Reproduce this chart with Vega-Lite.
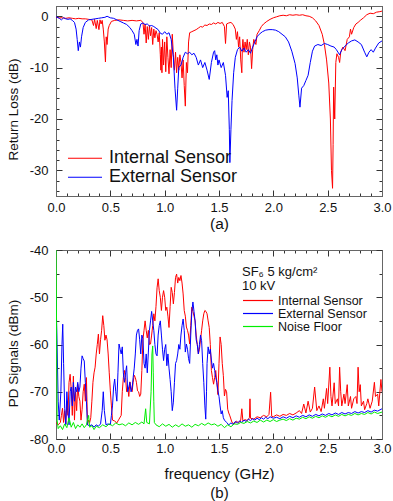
{
"$schema": "https://vega.github.io/schema/vega-lite/v6.json",
"padding": {"left": 5, "top": 5, "right": 8, "bottom": 0},
"background": "white",
"spacing": 11,
"config": {
  "font": "Liberation Sans",
  "view": {"stroke": "#666", "strokeWidth": 1},
  "axis": {"grid": false, "domainColor": "#666", "domainWidth": 1, "tickColor": "#333", "tickWidth": 1, "labelFont": "Liberation Sans", "labelFontSize": 13, "labelColor": "#111", "titleFont": "Liberation Sans", "titleFontWeight": "normal", "titleColor": "#111", "labelOverlap": false, "labelFlush": false},
  "legend": {"labelFont": "Liberation Sans", "titleFont": "Liberation Sans", "titleFontWeight": "normal", "labelColor": "#111", "titleColor": "#111", "padding": 0}
},
"resolve": {"scale": {"color": "independent"}, "legend": {"color": "independent"}},
"vconcat": [
{
  "width": 326, "height": 190,
  "data": {"values": [
{"s":"Internal Sensor","f":0.00,"v":-0.2},{"s":"Internal Sensor","f":0.03,"v":-0.3},{"s":"Internal Sensor","f":0.06,"v":-0.3},{"s":"Internal Sensor","f":0.09,"v":-0.4},{"s":"Internal Sensor","f":0.12,"v":-0.3},{"s":"Internal Sensor","f":0.15,"v":-0.4},{"s":"Internal Sensor","f":0.18,"v":-0.5},{"s":"Internal Sensor","f":0.21,"v":-0.4},{"s":"Internal Sensor","f":0.24,"v":-0.5},{"s":"Internal Sensor","f":0.27,"v":-0.5},{"s":"Internal Sensor","f":0.30,"v":-0.6},{"s":"Internal Sensor","f":0.33,"v":-0.7},{"s":"Internal Sensor","f":0.345,"v":-1.8},{"s":"Internal Sensor","f":0.355,"v":-0.6},{"s":"Internal Sensor","f":0.37,"v":-2.4},{"s":"Internal Sensor","f":0.38,"v":-0.8},{"s":"Internal Sensor","f":0.395,"v":-2.6},{"s":"Internal Sensor","f":0.405,"v":-0.7},{"s":"Internal Sensor","f":0.415,"v":-1.5},{"s":"Internal Sensor","f":0.425,"v":-0.8},{"s":"Internal Sensor","f":0.435,"v":-2.5},{"s":"Internal Sensor","f":0.445,"v":-5.0},{"s":"Internal Sensor","f":0.455,"v":-8.9},{"s":"Internal Sensor","f":0.462,"v":-4.0},{"s":"Internal Sensor","f":0.47,"v":-5.5},{"s":"Internal Sensor","f":0.48,"v":-2.5},{"s":"Internal Sensor","f":0.49,"v":-1.8},{"s":"Internal Sensor","f":0.51,"v":-1.0},{"s":"Internal Sensor","f":0.54,"v":-0.8},{"s":"Internal Sensor","f":0.58,"v":-0.7},{"s":"Internal Sensor","f":0.62,"v":-0.8},{"s":"Internal Sensor","f":0.66,"v":-0.9},{"s":"Internal Sensor","f":0.70,"v":-0.8},{"s":"Internal Sensor","f":0.74,"v":-0.9},{"s":"Internal Sensor","f":0.78,"v":-0.8},{"s":"Internal Sensor","f":0.80,"v":-1.2},{"s":"Internal Sensor","f":0.81,"v":-3.5},{"s":"Internal Sensor","f":0.82,"v":-1.5},{"s":"Internal Sensor","f":0.83,"v":-5.2},{"s":"Internal Sensor","f":0.84,"v":-2.0},{"s":"Internal Sensor","f":0.85,"v":-4.5},{"s":"Internal Sensor","f":0.86,"v":-1.8},{"s":"Internal Sensor","f":0.87,"v":-3.8},{"s":"Internal Sensor","f":0.88,"v":-2.2},{"s":"Internal Sensor","f":0.89,"v":-5.5},{"s":"Internal Sensor","f":0.90,"v":-2.5},{"s":"Internal Sensor","f":0.91,"v":-4.2},{"s":"Internal Sensor","f":0.92,"v":-2.8},{"s":"Internal Sensor","f":0.93,"v":-3.5},{"s":"Internal Sensor","f":0.94,"v":-5.0},{"s":"Internal Sensor","f":0.95,"v":-3.2},{"s":"Internal Sensor","f":0.96,"v":-7.5},{"s":"Internal Sensor","f":0.965,"v":-10.5},{"s":"Internal Sensor","f":0.97,"v":-6.0},{"s":"Internal Sensor","f":0.975,"v":-11.0},{"s":"Internal Sensor","f":0.98,"v":-4.5},{"s":"Internal Sensor","f":0.99,"v":-9.5},{"s":"Internal Sensor","f":1.00,"v":-5.0},{"s":"Internal Sensor","f":1.01,"v":-10.8},{"s":"Internal Sensor","f":1.02,"v":-4.0},{"s":"Internal Sensor","f":1.03,"v":-8.0},{"s":"Internal Sensor","f":1.04,"v":-11.2},{"s":"Internal Sensor","f":1.05,"v":-6.5},{"s":"Internal Sensor","f":1.06,"v":-10.0},{"s":"Internal Sensor","f":1.07,"v":-3.5},{"s":"Internal Sensor","f":1.08,"v":-7.5},{"s":"Internal Sensor","f":1.09,"v":-10.5},{"s":"Internal Sensor","f":1.10,"v":-7.0},{"s":"Internal Sensor","f":1.11,"v":-11.0},{"s":"Internal Sensor","f":1.12,"v":-8.0},{"s":"Internal Sensor","f":1.13,"v":-10.5},{"s":"Internal Sensor","f":1.14,"v":-7.5},{"s":"Internal Sensor","f":1.15,"v":-9.0},{"s":"Internal Sensor","f":1.16,"v":-12.0},{"s":"Internal Sensor","f":1.17,"v":-8.5},{"s":"Internal Sensor","f":1.18,"v":-13.5},{"s":"Internal Sensor","f":1.19,"v":-17.5},{"s":"Internal Sensor","f":1.20,"v":-9.0},{"s":"Internal Sensor","f":1.21,"v":-11.0},{"s":"Internal Sensor","f":1.22,"v":-5.0},{"s":"Internal Sensor","f":1.23,"v":-3.2},{"s":"Internal Sensor","f":1.25,"v":-3.0},{"s":"Internal Sensor","f":1.27,"v":-2.8},{"s":"Internal Sensor","f":1.29,"v":-2.6},{"s":"Internal Sensor","f":1.31,"v":-2.3},{"s":"Internal Sensor","f":1.33,"v":-2.0},{"s":"Internal Sensor","f":1.35,"v":-2.1},{"s":"Internal Sensor","f":1.37,"v":-1.7},{"s":"Internal Sensor","f":1.39,"v":-1.8},{"s":"Internal Sensor","f":1.41,"v":-1.5},{"s":"Internal Sensor","f":1.43,"v":-1.6},{"s":"Internal Sensor","f":1.45,"v":-1.3},{"s":"Internal Sensor","f":1.47,"v":-1.5},{"s":"Internal Sensor","f":1.49,"v":-1.2},{"s":"Internal Sensor","f":1.51,"v":-1.4},{"s":"Internal Sensor","f":1.53,"v":-1.2},{"s":"Internal Sensor","f":1.55,"v":-2.0},{"s":"Internal Sensor","f":1.56,"v":-5.3},{"s":"Internal Sensor","f":1.57,"v":-1.5},{"s":"Internal Sensor","f":1.59,"v":-1.3},{"s":"Internal Sensor","f":1.61,"v":-1.2},{"s":"Internal Sensor","f":1.63,"v":-1.6},{"s":"Internal Sensor","f":1.65,"v":-2.5},{"s":"Internal Sensor","f":1.66,"v":-4.5},{"s":"Internal Sensor","f":1.67,"v":-3.0},{"s":"Internal Sensor","f":1.68,"v":-6.0},{"s":"Internal Sensor","f":1.69,"v":-4.0},{"s":"Internal Sensor","f":1.70,"v":-8.5},{"s":"Internal Sensor","f":1.71,"v":-11.0},{"s":"Internal Sensor","f":1.715,"v":-6.0},{"s":"Internal Sensor","f":1.72,"v":-4.5},{"s":"Internal Sensor","f":1.73,"v":-7.0},{"s":"Internal Sensor","f":1.74,"v":-5.0},{"s":"Internal Sensor","f":1.75,"v":-6.5},{"s":"Internal Sensor","f":1.76,"v":-4.5},{"s":"Internal Sensor","f":1.77,"v":-7.5},{"s":"Internal Sensor","f":1.78,"v":-5.0},{"s":"Internal Sensor","f":1.79,"v":-6.0},{"s":"Internal Sensor","f":1.80,"v":-10.2},{"s":"Internal Sensor","f":1.81,"v":-6.5},{"s":"Internal Sensor","f":1.82,"v":-4.5},{"s":"Internal Sensor","f":1.84,"v":-5.5},{"s":"Internal Sensor","f":1.85,"v":-3.5},{"s":"Internal Sensor","f":1.87,"v":-2.8},{"s":"Internal Sensor","f":1.89,"v":-2.0},{"s":"Internal Sensor","f":1.91,"v":-1.5},{"s":"Internal Sensor","f":1.94,"v":-1.0},{"s":"Internal Sensor","f":1.97,"v":-0.6},{"s":"Internal Sensor","f":2.00,"v":-0.3},{"s":"Internal Sensor","f":2.03,"v":-0.1},{"s":"Internal Sensor","f":2.06,"v":0.1},{"s":"Internal Sensor","f":2.09,"v":0.2},{"s":"Internal Sensor","f":2.12,"v":0.1},{"s":"Internal Sensor","f":2.15,"v":0.3},{"s":"Internal Sensor","f":2.18,"v":0.2},{"s":"Internal Sensor","f":2.21,"v":0.3},{"s":"Internal Sensor","f":2.24,"v":0.2},{"s":"Internal Sensor","f":2.27,"v":0.3},{"s":"Internal Sensor","f":2.30,"v":0.1},{"s":"Internal Sensor","f":2.33,"v":0.0},{"s":"Internal Sensor","f":2.36,"v":-0.3},{"s":"Internal Sensor","f":2.39,"v":-0.9},{"s":"Internal Sensor","f":2.42,"v":-1.8},{"s":"Internal Sensor","f":2.45,"v":-3.5},{"s":"Internal Sensor","f":2.47,"v":-5.5},{"s":"Internal Sensor","f":2.49,"v":-8.5},{"s":"Internal Sensor","f":2.51,"v":-13.0},{"s":"Internal Sensor","f":2.525,"v":-20.0},{"s":"Internal Sensor","f":2.535,"v":-30.0},{"s":"Internal Sensor","f":2.545,"v":-33.5},{"s":"Internal Sensor","f":2.55,"v":-25.0},{"s":"Internal Sensor","f":2.555,"v":-13.8},{"s":"Internal Sensor","f":2.565,"v":-20.0},{"s":"Internal Sensor","f":2.575,"v":-9.0},{"s":"Internal Sensor","f":2.585,"v":-7.3},{"s":"Internal Sensor","f":2.60,"v":-8.0},{"s":"Internal Sensor","f":2.61,"v":-9.0},{"s":"Internal Sensor","f":2.62,"v":-7.0},{"s":"Internal Sensor","f":2.64,"v":-6.0},{"s":"Internal Sensor","f":2.66,"v":-6.7},{"s":"Internal Sensor","f":2.68,"v":-4.5},{"s":"Internal Sensor","f":2.70,"v":-4.0},{"s":"Internal Sensor","f":2.71,"v":-2.5},{"s":"Internal Sensor","f":2.72,"v":-3.5},{"s":"Internal Sensor","f":2.74,"v":-2.2},{"s":"Internal Sensor","f":2.76,"v":-1.5},{"s":"Internal Sensor","f":2.78,"v":-1.2},{"s":"Internal Sensor","f":2.80,"v":-0.8},{"s":"Internal Sensor","f":2.83,"v":-0.3},{"s":"Internal Sensor","f":2.86,"v":0.3},{"s":"Internal Sensor","f":2.89,"v":0.6},{"s":"Internal Sensor","f":2.92,"v":0.5},{"s":"Internal Sensor","f":2.95,"v":0.8},{"s":"Internal Sensor","f":2.98,"v":0.9},{"s":"Internal Sensor","f":3.00,"v":1.0},
{"s":"External Sensor","f":0.00,"v":-0.1},{"s":"External Sensor","f":0.03,"v":-0.4},{"s":"External Sensor","f":0.05,"v":-0.7},{"s":"External Sensor","f":0.07,"v":-0.3},{"s":"External Sensor","f":0.09,"v":-0.5},{"s":"External Sensor","f":0.11,"v":-0.6},{"s":"External Sensor","f":0.13,"v":-0.5},{"s":"External Sensor","f":0.15,"v":-0.8},{"s":"External Sensor","f":0.17,"v":-1.2},{"s":"External Sensor","f":0.185,"v":-2.5},{"s":"External Sensor","f":0.195,"v":-4.5},{"s":"External Sensor","f":0.205,"v":-6.7},{"s":"External Sensor","f":0.215,"v":-5.0},{"s":"External Sensor","f":0.225,"v":-6.0},{"s":"External Sensor","f":0.235,"v":-4.0},{"s":"External Sensor","f":0.25,"v":-2.2},{"s":"External Sensor","f":0.27,"v":-1.2},{"s":"External Sensor","f":0.30,"v":-0.7},{"s":"External Sensor","f":0.33,"v":-0.6},{"s":"External Sensor","f":0.36,"v":-0.5},{"s":"External Sensor","f":0.39,"v":-0.4},{"s":"External Sensor","f":0.42,"v":-0.3},{"s":"External Sensor","f":0.45,"v":-0.2},{"s":"External Sensor","f":0.47,"v":0.0},{"s":"External Sensor","f":0.50,"v":-0.3},{"s":"External Sensor","f":0.53,"v":-0.4},{"s":"External Sensor","f":0.56,"v":-0.7},{"s":"External Sensor","f":0.59,"v":-1.0},{"s":"External Sensor","f":0.62,"v":-1.3},{"s":"External Sensor","f":0.65,"v":-1.6},{"s":"External Sensor","f":0.68,"v":-2.2},{"s":"External Sensor","f":0.70,"v":-2.8},{"s":"External Sensor","f":0.72,"v":-3.5},{"s":"External Sensor","f":0.735,"v":-5.5},{"s":"External Sensor","f":0.745,"v":-4.5},{"s":"External Sensor","f":0.755,"v":-5.8},{"s":"External Sensor","f":0.765,"v":-2.8},{"s":"External Sensor","f":0.78,"v":-1.5},{"s":"External Sensor","f":0.80,"v":-1.3},{"s":"External Sensor","f":0.82,"v":-1.6},{"s":"External Sensor","f":0.84,"v":-1.5},{"s":"External Sensor","f":0.86,"v":-1.9},{"s":"External Sensor","f":0.88,"v":-1.8},{"s":"External Sensor","f":0.90,"v":-2.0},{"s":"External Sensor","f":0.92,"v":-2.3},{"s":"External Sensor","f":0.94,"v":-2.6},{"s":"External Sensor","f":0.96,"v":-3.3},{"s":"External Sensor","f":0.98,"v":-3.5},{"s":"External Sensor","f":1.00,"v":-3.0},{"s":"External Sensor","f":1.02,"v":-3.5},{"s":"External Sensor","f":1.04,"v":-3.2},{"s":"External Sensor","f":1.06,"v":-4.5},{"s":"External Sensor","f":1.08,"v":-8.0},{"s":"External Sensor","f":1.095,"v":-14.0},{"s":"External Sensor","f":1.11,"v":-18.3},{"s":"External Sensor","f":1.12,"v":-14.0},{"s":"External Sensor","f":1.13,"v":-10.0},{"s":"External Sensor","f":1.15,"v":-9.5},{"s":"External Sensor","f":1.17,"v":-8.0},{"s":"External Sensor","f":1.19,"v":-7.0},{"s":"External Sensor","f":1.21,"v":-7.3},{"s":"External Sensor","f":1.23,"v":-7.0},{"s":"External Sensor","f":1.25,"v":-7.5},{"s":"External Sensor","f":1.27,"v":-7.2},{"s":"External Sensor","f":1.29,"v":-8.0},{"s":"External Sensor","f":1.31,"v":-9.5},{"s":"External Sensor","f":1.33,"v":-8.5},{"s":"External Sensor","f":1.35,"v":-10.0},{"s":"External Sensor","f":1.37,"v":-9.0},{"s":"External Sensor","f":1.39,"v":-10.5},{"s":"External Sensor","f":1.41,"v":-12.3},{"s":"External Sensor","f":1.43,"v":-9.0},{"s":"External Sensor","f":1.45,"v":-7.0},{"s":"External Sensor","f":1.46,"v":-6.7},{"s":"External Sensor","f":1.47,"v":-8.5},{"s":"External Sensor","f":1.48,"v":-7.5},{"s":"External Sensor","f":1.49,"v":-9.5},{"s":"External Sensor","f":1.50,"v":-8.5},{"s":"External Sensor","f":1.52,"v":-10.0},{"s":"External Sensor","f":1.54,"v":-9.0},{"s":"External Sensor","f":1.56,"v":-11.5},{"s":"External Sensor","f":1.575,"v":-15.8},{"s":"External Sensor","f":1.585,"v":-14.5},{"s":"External Sensor","f":1.595,"v":-22.0},{"s":"External Sensor","f":1.60,"v":-28.5},{"s":"External Sensor","f":1.61,"v":-22.0},{"s":"External Sensor","f":1.62,"v":-16.4},{"s":"External Sensor","f":1.635,"v":-11.0},{"s":"External Sensor","f":1.65,"v":-8.0},{"s":"External Sensor","f":1.67,"v":-6.5},{"s":"External Sensor","f":1.69,"v":-6.0},{"s":"External Sensor","f":1.71,"v":-6.8},{"s":"External Sensor","f":1.73,"v":-6.2},{"s":"External Sensor","f":1.75,"v":-7.0},{"s":"External Sensor","f":1.77,"v":-6.5},{"s":"External Sensor","f":1.79,"v":-7.2},{"s":"External Sensor","f":1.81,"v":-6.0},{"s":"External Sensor","f":1.83,"v":-5.0},{"s":"External Sensor","f":1.85,"v":-4.0},{"s":"External Sensor","f":1.87,"v":-3.5},{"s":"External Sensor","f":1.90,"v":-3.0},{"s":"External Sensor","f":1.93,"v":-2.7},{"s":"External Sensor","f":1.96,"v":-2.6},{"s":"External Sensor","f":1.99,"v":-2.6},{"s":"External Sensor","f":2.02,"v":-2.7},{"s":"External Sensor","f":2.05,"v":-3.0},{"s":"External Sensor","f":2.08,"v":-3.5},{"s":"External Sensor","f":2.11,"v":-4.0},{"s":"External Sensor","f":2.14,"v":-5.0},{"s":"External Sensor","f":2.17,"v":-6.8},{"s":"External Sensor","f":2.20,"v":-9.2},{"s":"External Sensor","f":2.22,"v":-12.0},{"s":"External Sensor","f":2.235,"v":-15.5},{"s":"External Sensor","f":2.245,"v":-17.7},{"s":"External Sensor","f":2.26,"v":-14.0},{"s":"External Sensor","f":2.28,"v":-13.5},{"s":"External Sensor","f":2.30,"v":-12.5},{"s":"External Sensor","f":2.32,"v":-11.5},{"s":"External Sensor","f":2.34,"v":-9.0},{"s":"External Sensor","f":2.36,"v":-6.8},{"s":"External Sensor","f":2.38,"v":-5.8},{"s":"External Sensor","f":2.41,"v":-5.5},{"s":"External Sensor","f":2.44,"v":-5.7},{"s":"External Sensor","f":2.47,"v":-5.3},{"s":"External Sensor","f":2.50,"v":-5.5},{"s":"External Sensor","f":2.53,"v":-5.8},{"s":"External Sensor","f":2.56,"v":-6.0},{"s":"External Sensor","f":2.58,"v":-6.5},{"s":"External Sensor","f":2.61,"v":-7.5},{"s":"External Sensor","f":2.63,"v":-6.5},{"s":"External Sensor","f":2.66,"v":-5.8},{"s":"External Sensor","f":2.69,"v":-5.2},{"s":"External Sensor","f":2.72,"v":-4.8},{"s":"External Sensor","f":2.75,"v":-4.6},{"s":"External Sensor","f":2.78,"v":-5.0},{"s":"External Sensor","f":2.81,"v":-5.5},{"s":"External Sensor","f":2.84,"v":-7.0},{"s":"External Sensor","f":2.86,"v":-7.9},{"s":"External Sensor","f":2.88,"v":-7.0},{"s":"External Sensor","f":2.90,"v":-6.5},{"s":"External Sensor","f":2.92,"v":-7.0},{"s":"External Sensor","f":2.94,"v":-6.2},{"s":"External Sensor","f":2.97,"v":-5.2},{"s":"External Sensor","f":3.00,"v":-4.8}
  ]},
  "layer": [
    {
      "mark": {"type": "line", "strokeWidth": 1, "clip": true},
      "encoding": {
        "x": {"field": "f", "type": "quantitative", "scale": {"domain": [0, 3], "nice": false, "zero": false},
          "axis": {"orient": "bottom", "values": [0,0.1,0.2,0.3,0.4,0.5,0.6,0.7,0.8,0.9,1,1.1,1.2,1.3,1.4,1.5,1.6,1.7,1.8,1.9,2,2.1,2.2,2.3,2.4,2.5,2.6,2.7,2.8,2.9,3],
            "labelExpr": "abs(datum.value*2-round(datum.value*2))<0.001 ? format(datum.value,'.1f') : ''",
            "tickSize": {"condition": {"test": "abs(datum.value*2-round(datum.value*2))<0.001", "value": -6}, "value": -3},
            "labelPadding": 11, "title": "(a)", "titleFontSize": 15.5, "titlePadding": -1}},
        "y": {"field": "v", "type": "quantitative", "scale": {"domain": [-35, 2], "nice": false, "zero": false},
          "axis": {"orient": "left", "values": [-34,-32,-30,-28,-26,-24,-22,-20,-18,-16,-14,-12,-10,-8,-6,-4,-2,0],
            "labelExpr": "datum.value % 10 == 0 ? '' + datum.value : ''",
            "tickSize": {"condition": {"test": "datum.value % 10 == 0", "value": -6}, "value": -3},
            "labelPadding": 14, "title": "Return Loss (dB)", "titleFontSize": 13.5, "titlePadding": 9, "titleY": 103}},
        "color": {"field": "s", "type": "nominal",
          "scale": {"domain": ["Internal Sensor", "External Sensor"], "range": ["#ff0000", "#0000ff"]},
          "legend": {"orient": "none", "legendX": 11, "legendY": 144, "title": null, "symbolType": "stroke", "symbolSize": 1156, "symbolStrokeWidth": 1.2, "clipHeight": 16.5, "rowPadding": 0, "labelFontSize": 18, "labelOffset": 6}}
      }
    },
    {
      "mark": {"type": "point", "opacity": 0},
      "encoding": {
        "x": {"field": "f", "type": "quantitative",
          "axis": {"orient": "top", "values": [0,0.1,0.2,0.3,0.4,0.5,0.6,0.7,0.8,0.9,1,1.1,1.2,1.3,1.4,1.5,1.6,1.7,1.8,1.9,2,2.1,2.2,2.3,2.4,2.5,2.6,2.7,2.8,2.9,3], "labels": false, "title": null,
            "tickSize": {"condition": {"test": "abs(datum.value*2-round(datum.value*2))<0.001", "value": -6}, "value": -3}}},
        "y": {"field": "v", "type": "quantitative",
          "axis": {"orient": "right", "values": [-34,-32,-30,-28,-26,-24,-22,-20,-18,-16,-14,-12,-10,-8,-6,-4,-2,0], "labels": false, "title": null,
            "tickSize": {"condition": {"test": "datum.value % 10 == 0", "value": -6}, "value": -3}}}
      }
    }
  ],
  "resolve": {"axis": {"x": "independent", "y": "independent"}}
},
{
  "width": 326, "height": 189,
  "data": {"values": [
{"s":"Internal Sensor","f":0.00,"v":-76.5},{"s":"Internal Sensor","f":0.02,"v":-77.0},{"s":"Internal Sensor","f":0.04,"v":-76.5},{"s":"Internal Sensor","f":0.05,"v":-75},{"s":"Internal Sensor","f":0.06,"v":-73.5},{"s":"Internal Sensor","f":0.07,"v":-76.5},{"s":"Internal Sensor","f":0.08,"v":-74},{"s":"Internal Sensor","f":0.09,"v":-76.8},{"s":"Internal Sensor","f":0.10,"v":-72},{"s":"Internal Sensor","f":0.11,"v":-75},{"s":"Internal Sensor","f":0.12,"v":-68},{"s":"Internal Sensor","f":0.13,"v":-66.3},{"s":"Internal Sensor","f":0.14,"v":-69.5},{"s":"Internal Sensor","f":0.15,"v":-75},{"s":"Internal Sensor","f":0.16,"v":-66.7},{"s":"Internal Sensor","f":0.17,"v":-76},{"s":"Internal Sensor","f":0.18,"v":-70},{"s":"Internal Sensor","f":0.19,"v":-74},{"s":"Internal Sensor","f":0.20,"v":-68.4},{"s":"Internal Sensor","f":0.21,"v":-71},{"s":"Internal Sensor","f":0.22,"v":-72},{"s":"Internal Sensor","f":0.23,"v":-76},{"s":"Internal Sensor","f":0.24,"v":-73.8},{"s":"Internal Sensor","f":0.25,"v":-70},{"s":"Internal Sensor","f":0.26,"v":-68.4},{"s":"Internal Sensor","f":0.27,"v":-72},{"s":"Internal Sensor","f":0.28,"v":-67},{"s":"Internal Sensor","f":0.29,"v":-77},{"s":"Internal Sensor","f":0.30,"v":-76},{"s":"Internal Sensor","f":0.31,"v":-76.5},{"s":"Internal Sensor","f":0.32,"v":-75.5},{"s":"Internal Sensor","f":0.33,"v":-72},{"s":"Internal Sensor","f":0.34,"v":-68},{"s":"Internal Sensor","f":0.35,"v":-66},{"s":"Internal Sensor","f":0.36,"v":-64.8},{"s":"Internal Sensor","f":0.37,"v":-62},{"s":"Internal Sensor","f":0.38,"v":-60},{"s":"Internal Sensor","f":0.39,"v":-57.8},{"s":"Internal Sensor","f":0.40,"v":-62},{"s":"Internal Sensor","f":0.41,"v":-59},{"s":"Internal Sensor","f":0.42,"v":-57},{"s":"Internal Sensor","f":0.43,"v":-53.9},{"s":"Internal Sensor","f":0.44,"v":-56},{"s":"Internal Sensor","f":0.45,"v":-59.1},{"s":"Internal Sensor","f":0.46,"v":-58},{"s":"Internal Sensor","f":0.47,"v":-59},{"s":"Internal Sensor","f":0.48,"v":-62},{"s":"Internal Sensor","f":0.49,"v":-66},{"s":"Internal Sensor","f":0.50,"v":-69.8},{"s":"Internal Sensor","f":0.51,"v":-73},{"s":"Internal Sensor","f":0.52,"v":-76},{"s":"Internal Sensor","f":0.54,"v":-76.2},{"s":"Internal Sensor","f":0.56,"v":-76.6},{"s":"Internal Sensor","f":0.58,"v":-75.8},{"s":"Internal Sensor","f":0.60,"v":-75},{"s":"Internal Sensor","f":0.61,"v":-70},{"s":"Internal Sensor","f":0.62,"v":-67},{"s":"Internal Sensor","f":0.63,"v":-65.5},{"s":"Internal Sensor","f":0.64,"v":-67},{"s":"Internal Sensor","f":0.65,"v":-70},{"s":"Internal Sensor","f":0.66,"v":-69},{"s":"Internal Sensor","f":0.67,"v":-71},{"s":"Internal Sensor","f":0.68,"v":-67.9},{"s":"Internal Sensor","f":0.69,"v":-69},{"s":"Internal Sensor","f":0.70,"v":-70},{"s":"Internal Sensor","f":0.71,"v":-68},{"s":"Internal Sensor","f":0.72,"v":-66.5},{"s":"Internal Sensor","f":0.73,"v":-67},{"s":"Internal Sensor","f":0.74,"v":-68},{"s":"Internal Sensor","f":0.75,"v":-69.8},{"s":"Internal Sensor","f":0.76,"v":-70},{"s":"Internal Sensor","f":0.77,"v":-71},{"s":"Internal Sensor","f":0.78,"v":-70.5},{"s":"Internal Sensor","f":0.79,"v":-65.5},{"s":"Internal Sensor","f":0.80,"v":-59},{"s":"Internal Sensor","f":0.81,"v":-57},{"s":"Internal Sensor","f":0.82,"v":-55},{"s":"Internal Sensor","f":0.83,"v":-57},{"s":"Internal Sensor","f":0.84,"v":-58.6},{"s":"Internal Sensor","f":0.85,"v":-57},{"s":"Internal Sensor","f":0.86,"v":-60},{"s":"Internal Sensor","f":0.87,"v":-59.9},{"s":"Internal Sensor","f":0.88,"v":-58},{"s":"Internal Sensor","f":0.89,"v":-56},{"s":"Internal Sensor","f":0.90,"v":-53.5},{"s":"Internal Sensor","f":0.91,"v":-55},{"s":"Internal Sensor","f":0.92,"v":-52},{"s":"Internal Sensor","f":0.93,"v":-48},{"s":"Internal Sensor","f":0.94,"v":-46.1},{"s":"Internal Sensor","f":0.95,"v":-48.6},{"s":"Internal Sensor","f":0.96,"v":-50},{"s":"Internal Sensor","f":0.97,"v":-52.8},{"s":"Internal Sensor","f":0.98,"v":-50},{"s":"Internal Sensor","f":0.99,"v":-48.6},{"s":"Internal Sensor","f":1.00,"v":-50},{"s":"Internal Sensor","f":1.01,"v":-52.8},{"s":"Internal Sensor","f":1.02,"v":-52.1},{"s":"Internal Sensor","f":1.03,"v":-54},{"s":"Internal Sensor","f":1.04,"v":-56.4},{"s":"Internal Sensor","f":1.05,"v":-52},{"s":"Internal Sensor","f":1.06,"v":-47.9},{"s":"Internal Sensor","f":1.07,"v":-49},{"s":"Internal Sensor","f":1.08,"v":-51.4},{"s":"Internal Sensor","f":1.09,"v":-49},{"s":"Internal Sensor","f":1.10,"v":-45.8},{"s":"Internal Sensor","f":1.11,"v":-45.1},{"s":"Internal Sensor","f":1.12,"v":-47},{"s":"Internal Sensor","f":1.13,"v":-45.8},{"s":"Internal Sensor","f":1.14,"v":-46.5},{"s":"Internal Sensor","f":1.15,"v":-45.4},{"s":"Internal Sensor","f":1.16,"v":-47},{"s":"Internal Sensor","f":1.17,"v":-49.3},{"s":"Internal Sensor","f":1.18,"v":-52.8},{"s":"Internal Sensor","f":1.19,"v":-54},{"s":"Internal Sensor","f":1.20,"v":-56.3},{"s":"Internal Sensor","f":1.21,"v":-57},{"s":"Internal Sensor","f":1.22,"v":-58},{"s":"Internal Sensor","f":1.23,"v":-59.9},{"s":"Internal Sensor","f":1.24,"v":-56},{"s":"Internal Sensor","f":1.25,"v":-52.1},{"s":"Internal Sensor","f":1.26,"v":-53},{"s":"Internal Sensor","f":1.27,"v":-54},{"s":"Internal Sensor","f":1.28,"v":-55},{"s":"Internal Sensor","f":1.29,"v":-58},{"s":"Internal Sensor","f":1.30,"v":-60},{"s":"Internal Sensor","f":1.31,"v":-62},{"s":"Internal Sensor","f":1.32,"v":-61},{"s":"Internal Sensor","f":1.33,"v":-59},{"s":"Internal Sensor","f":1.34,"v":-57},{"s":"Internal Sensor","f":1.35,"v":-55},{"s":"Internal Sensor","f":1.36,"v":-53.5},{"s":"Internal Sensor","f":1.37,"v":-52.8},{"s":"Internal Sensor","f":1.38,"v":-53},{"s":"Internal Sensor","f":1.39,"v":-53.5},{"s":"Internal Sensor","f":1.40,"v":-55},{"s":"Internal Sensor","f":1.41,"v":-56.4},{"s":"Internal Sensor","f":1.42,"v":-60},{"s":"Internal Sensor","f":1.43,"v":-65.5},{"s":"Internal Sensor","f":1.44,"v":-67},{"s":"Internal Sensor","f":1.45,"v":-68.4},{"s":"Internal Sensor","f":1.46,"v":-67},{"s":"Internal Sensor","f":1.47,"v":-65.5},{"s":"Internal Sensor","f":1.48,"v":-68},{"s":"Internal Sensor","f":1.49,"v":-70.6},{"s":"Internal Sensor","f":1.50,"v":-64},{"s":"Internal Sensor","f":1.51,"v":-58.4},{"s":"Internal Sensor","f":1.52,"v":-60},{"s":"Internal Sensor","f":1.53,"v":-64},{"s":"Internal Sensor","f":1.54,"v":-66.6},{"s":"Internal Sensor","f":1.55,"v":-70.9},{"s":"Internal Sensor","f":1.56,"v":-69.5},{"s":"Internal Sensor","f":1.57,"v":-70},{"s":"Internal Sensor","f":1.58,"v":-73.7},{"s":"Internal Sensor","f":1.59,"v":-74.5},{"s":"Internal Sensor","f":1.60,"v":-75.1},{"s":"Internal Sensor","f":1.62,"v":-76.5},{"s":"Internal Sensor","f":1.64,"v":-76.8},{"s":"Internal Sensor","f":1.66,"v":-76.2},{"s":"Internal Sensor","f":1.68,"v":-76.6},{"s":"Internal Sensor","f":1.70,"v":-76.0},{"s":"Internal Sensor","f":1.71,"v":-73.6},{"s":"Internal Sensor","f":1.72,"v":-76.2},{"s":"Internal Sensor","f":1.74,"v":-75.9},{"s":"Internal Sensor","f":1.76,"v":-76.1},{"s":"Internal Sensor","f":1.78,"v":-75.5},{"s":"Internal Sensor","f":1.785,"v":-71.5},{"s":"Internal Sensor","f":1.79,"v":-75.6},{"s":"Internal Sensor","f":1.82,"v":-75.8},{"s":"Internal Sensor","f":1.85,"v":-75.3},{"s":"Internal Sensor","f":1.88,"v":-75.5},{"s":"Internal Sensor","f":1.91,"v":-75.0},{"s":"Internal Sensor","f":1.94,"v":-75.3},{"s":"Internal Sensor","f":1.96,"v":-74.8},{"s":"Internal Sensor","f":1.975,"v":-70.1},{"s":"Internal Sensor","f":1.985,"v":-75.2},{"s":"Internal Sensor","f":2.00,"v":-75.3},{"s":"Internal Sensor","f":2.03,"v":-74.9},{"s":"Internal Sensor","f":2.06,"v":-75.2},{"s":"Internal Sensor","f":2.09,"v":-74.8},{"s":"Internal Sensor","f":2.12,"v":-75.0},{"s":"Internal Sensor","f":2.15,"v":-74.6},{"s":"Internal Sensor","f":2.18,"v":-74.9},{"s":"Internal Sensor","f":2.21,"v":-74.5},{"s":"Internal Sensor","f":2.24,"v":-74.0},{"s":"Internal Sensor","f":2.26,"v":-74.6},{"s":"Internal Sensor","f":2.28,"v":-72.6},{"s":"Internal Sensor","f":2.30,"v":-74.5},{"s":"Internal Sensor","f":2.32,"v":-72.0},{"s":"Internal Sensor","f":2.34,"v":-74.3},{"s":"Internal Sensor","f":2.36,"v":-73.5},{"s":"Internal Sensor","f":2.38,"v":-69.0},{"s":"Internal Sensor","f":2.40,"v":-74.0},{"s":"Internal Sensor","f":2.42,"v":-73.0},{"s":"Internal Sensor","f":2.44,"v":-74.2},{"s":"Internal Sensor","f":2.46,"v":-71.5},{"s":"Internal Sensor","f":2.47,"v":-73.5},{"s":"Internal Sensor","f":2.49,"v":-69.3},{"s":"Internal Sensor","f":2.50,"v":-72.5},{"s":"Internal Sensor","f":2.52,"v":-64.8},{"s":"Internal Sensor","f":2.53,"v":-71.0},{"s":"Internal Sensor","f":2.54,"v":-73.0},{"s":"Internal Sensor","f":2.56,"v":-68.1},{"s":"Internal Sensor","f":2.57,"v":-72.5},{"s":"Internal Sensor","f":2.59,"v":-71.5},{"s":"Internal Sensor","f":2.60,"v":-73.0},{"s":"Internal Sensor","f":2.61,"v":-64.8},{"s":"Internal Sensor","f":2.62,"v":-70.0},{"s":"Internal Sensor","f":2.63,"v":-73.0},{"s":"Internal Sensor","f":2.65,"v":-70.5},{"s":"Internal Sensor","f":2.66,"v":-72.5},{"s":"Internal Sensor","f":2.68,"v":-68.5},{"s":"Internal Sensor","f":2.69,"v":-73.0},{"s":"Internal Sensor","f":2.71,"v":-71.0},{"s":"Internal Sensor","f":2.72,"v":-73.5},{"s":"Internal Sensor","f":2.74,"v":-71.5},{"s":"Internal Sensor","f":2.76,"v":-71.0},{"s":"Internal Sensor","f":2.77,"v":-72.5},{"s":"Internal Sensor","f":2.78,"v":-64.8},{"s":"Internal Sensor","f":2.79,"v":-70.0},{"s":"Internal Sensor","f":2.80,"v":-68.5},{"s":"Internal Sensor","f":2.81,"v":-73.0},{"s":"Internal Sensor","f":2.83,"v":-72.0},{"s":"Internal Sensor","f":2.84,"v":-73.8},{"s":"Internal Sensor","f":2.86,"v":-72.5},{"s":"Internal Sensor","f":2.87,"v":-71.5},{"s":"Internal Sensor","f":2.89,"v":-73.5},{"s":"Internal Sensor","f":2.91,"v":-72.0},{"s":"Internal Sensor","f":2.93,"v":-68.0},{"s":"Internal Sensor","f":2.94,"v":-71.0},{"s":"Internal Sensor","f":2.96,"v":-70.5},{"s":"Internal Sensor","f":2.97,"v":-73.0},{"s":"Internal Sensor","f":2.99,"v":-67.4},{"s":"Internal Sensor","f":3.00,"v":-70.0},
{"s":"External Sensor","f":0.000,"v":-50},{"s":"External Sensor","f":0.01,"v":-60},{"s":"External Sensor","f":0.02,"v":-72},{"s":"External Sensor","f":0.03,"v":-76},{"s":"External Sensor","f":0.045,"v":-70},{"s":"External Sensor","f":0.055,"v":-60},{"s":"External Sensor","f":0.062,"v":-55.7},{"s":"External Sensor","f":0.07,"v":-64},{"s":"External Sensor","f":0.08,"v":-73.6},{"s":"External Sensor","f":0.09,"v":-77},{"s":"External Sensor","f":0.10,"v":-70},{"s":"External Sensor","f":0.11,"v":-74},{"s":"External Sensor","f":0.12,"v":-77},{"s":"External Sensor","f":0.13,"v":-70},{"s":"External Sensor","f":0.14,"v":-69},{"s":"External Sensor","f":0.15,"v":-73},{"s":"External Sensor","f":0.16,"v":-68},{"s":"External Sensor","f":0.17,"v":-72},{"s":"External Sensor","f":0.18,"v":-69},{"s":"External Sensor","f":0.19,"v":-70},{"s":"External Sensor","f":0.20,"v":-68},{"s":"External Sensor","f":0.21,"v":-70},{"s":"External Sensor","f":0.22,"v":-69},{"s":"External Sensor","f":0.23,"v":-65},{"s":"External Sensor","f":0.24,"v":-62.4},{"s":"External Sensor","f":0.25,"v":-63},{"s":"External Sensor","f":0.26,"v":-63.5},{"s":"External Sensor","f":0.27,"v":-68},{"s":"External Sensor","f":0.28,"v":-72},{"s":"External Sensor","f":0.29,"v":-77},{"s":"External Sensor","f":0.31,"v":-77.2},{"s":"External Sensor","f":0.33,"v":-77.0},{"s":"External Sensor","f":0.35,"v":-77.5},{"s":"External Sensor","f":0.37,"v":-77.0},{"s":"External Sensor","f":0.39,"v":-77.3},{"s":"External Sensor","f":0.41,"v":-76.8},{"s":"External Sensor","f":0.425,"v":-74},{"s":"External Sensor","f":0.435,"v":-70},{"s":"External Sensor","f":0.445,"v":-74},{"s":"External Sensor","f":0.46,"v":-77},{"s":"External Sensor","f":0.48,"v":-76.8},{"s":"External Sensor","f":0.50,"v":-77},{"s":"External Sensor","f":0.51,"v":-75},{"s":"External Sensor","f":0.52,"v":-73},{"s":"External Sensor","f":0.53,"v":-69},{"s":"External Sensor","f":0.54,"v":-67.3},{"s":"External Sensor","f":0.55,"v":-70},{"s":"External Sensor","f":0.56,"v":-72},{"s":"External Sensor","f":0.57,"v":-66},{"s":"External Sensor","f":0.58,"v":-59.9},{"s":"External Sensor","f":0.59,"v":-61},{"s":"External Sensor","f":0.60,"v":-62},{"s":"External Sensor","f":0.61,"v":-60.5},{"s":"External Sensor","f":0.62,"v":-66},{"s":"External Sensor","f":0.63,"v":-68},{"s":"External Sensor","f":0.64,"v":-66},{"s":"External Sensor","f":0.65,"v":-64.5},{"s":"External Sensor","f":0.66,"v":-70},{"s":"External Sensor","f":0.67,"v":-69},{"s":"External Sensor","f":0.68,"v":-68},{"s":"External Sensor","f":0.69,"v":-70},{"s":"External Sensor","f":0.70,"v":-69.5},{"s":"External Sensor","f":0.71,"v":-67},{"s":"External Sensor","f":0.72,"v":-65},{"s":"External Sensor","f":0.73,"v":-62},{"s":"External Sensor","f":0.74,"v":-58},{"s":"External Sensor","f":0.75,"v":-57},{"s":"External Sensor","f":0.76,"v":-56.7},{"s":"External Sensor","f":0.77,"v":-59},{"s":"External Sensor","f":0.78,"v":-62},{"s":"External Sensor","f":0.79,"v":-58},{"s":"External Sensor","f":0.80,"v":-58.8},{"s":"External Sensor","f":0.81,"v":-64},{"s":"External Sensor","f":0.82,"v":-65},{"s":"External Sensor","f":0.83,"v":-62},{"s":"External Sensor","f":0.84,"v":-66},{"s":"External Sensor","f":0.85,"v":-61.6},{"s":"External Sensor","f":0.86,"v":-57},{"s":"External Sensor","f":0.87,"v":-55},{"s":"External Sensor","f":0.88,"v":-53},{"s":"External Sensor","f":0.89,"v":-55},{"s":"External Sensor","f":0.90,"v":-57},{"s":"External Sensor","f":0.91,"v":-60},{"s":"External Sensor","f":0.92,"v":-62},{"s":"External Sensor","f":0.93,"v":-62.4},{"s":"External Sensor","f":0.94,"v":-58},{"s":"External Sensor","f":0.95,"v":-56},{"s":"External Sensor","f":0.96,"v":-55},{"s":"External Sensor","f":0.97,"v":-58},{"s":"External Sensor","f":0.98,"v":-61},{"s":"External Sensor","f":0.99,"v":-63.4},{"s":"External Sensor","f":1.00,"v":-61},{"s":"External Sensor","f":1.01,"v":-60},{"s":"External Sensor","f":1.02,"v":-64.5},{"s":"External Sensor","f":1.03,"v":-62},{"s":"External Sensor","f":1.04,"v":-65},{"s":"External Sensor","f":1.05,"v":-67.4},{"s":"External Sensor","f":1.06,"v":-70},{"s":"External Sensor","f":1.07,"v":-74},{"s":"External Sensor","f":1.08,"v":-72.2},{"s":"External Sensor","f":1.09,"v":-68},{"s":"External Sensor","f":1.10,"v":-64},{"s":"External Sensor","f":1.11,"v":-63.4},{"s":"External Sensor","f":1.12,"v":-62},{"s":"External Sensor","f":1.13,"v":-60},{"s":"External Sensor","f":1.14,"v":-61},{"s":"External Sensor","f":1.15,"v":-58},{"s":"External Sensor","f":1.16,"v":-56},{"s":"External Sensor","f":1.17,"v":-54.6},{"s":"External Sensor","f":1.18,"v":-57},{"s":"External Sensor","f":1.19,"v":-61.6},{"s":"External Sensor","f":1.20,"v":-59.9},{"s":"External Sensor","f":1.21,"v":-61},{"s":"External Sensor","f":1.22,"v":-63},{"s":"External Sensor","f":1.23,"v":-64},{"s":"External Sensor","f":1.24,"v":-58},{"s":"External Sensor","f":1.25,"v":-53},{"s":"External Sensor","f":1.26,"v":-51},{"s":"External Sensor","f":1.27,"v":-53},{"s":"External Sensor","f":1.28,"v":-55},{"s":"External Sensor","f":1.29,"v":-59},{"s":"External Sensor","f":1.30,"v":-60},{"s":"External Sensor","f":1.31,"v":-62},{"s":"External Sensor","f":1.32,"v":-60},{"s":"External Sensor","f":1.33,"v":-58},{"s":"External Sensor","f":1.34,"v":-59.2},{"s":"External Sensor","f":1.35,"v":-64},{"s":"External Sensor","f":1.36,"v":-68},{"s":"External Sensor","f":1.37,"v":-73},{"s":"External Sensor","f":1.378,"v":-75.8},{"s":"External Sensor","f":1.385,"v":-70},{"s":"External Sensor","f":1.39,"v":-64},{"s":"External Sensor","f":1.40,"v":-60.5},{"s":"External Sensor","f":1.41,"v":-62},{"s":"External Sensor","f":1.42,"v":-61},{"s":"External Sensor","f":1.43,"v":-63.3},{"s":"External Sensor","f":1.44,"v":-65},{"s":"External Sensor","f":1.45,"v":-64},{"s":"External Sensor","f":1.46,"v":-65.5},{"s":"External Sensor","f":1.47,"v":-67},{"s":"External Sensor","f":1.48,"v":-68},{"s":"External Sensor","f":1.49,"v":-69.8},{"s":"External Sensor","f":1.50,"v":-71},{"s":"External Sensor","f":1.51,"v":-73},{"s":"External Sensor","f":1.52,"v":-74.7},{"s":"External Sensor","f":1.53,"v":-74},{"s":"External Sensor","f":1.54,"v":-75.5},{"s":"External Sensor","f":1.55,"v":-76},{"s":"External Sensor","f":1.57,"v":-76.5},{"s":"External Sensor","f":1.59,"v":-77},{"s":"External Sensor","f":1.61,"v":-76.6},{"s":"External Sensor","f":1.63,"v":-76.9},{"s":"External Sensor","f":1.65,"v":-76.3},{"s":"External Sensor","f":1.67,"v":-76.6},{"s":"External Sensor","f":1.69,"v":-76.2},{"s":"External Sensor","f":1.71,"v":-76.5},{"s":"External Sensor","f":1.73,"v":-76.0},{"s":"External Sensor","f":1.75,"v":-76.3},{"s":"External Sensor","f":1.77,"v":-75.8},{"s":"External Sensor","f":1.79,"v":-76.1},{"s":"External Sensor","f":1.81,"v":-75.7},{"s":"External Sensor","f":1.83,"v":-76.0},{"s":"External Sensor","f":1.85,"v":-75.6},{"s":"External Sensor","f":1.87,"v":-75.9},{"s":"External Sensor","f":1.89,"v":-75.5},{"s":"External Sensor","f":1.91,"v":-75.8},{"s":"External Sensor","f":1.93,"v":-75.4},{"s":"External Sensor","f":1.95,"v":-75.7},{"s":"External Sensor","f":1.97,"v":-75.3},{"s":"External Sensor","f":2.00,"v":-75.6},{"s":"External Sensor","f":2.03,"v":-75.4},{"s":"External Sensor","f":2.06,"v":-75.7},{"s":"External Sensor","f":2.09,"v":-75.3},{"s":"External Sensor","f":2.12,"v":-75.6},{"s":"External Sensor","f":2.15,"v":-75.2},{"s":"External Sensor","f":2.18,"v":-75.5},{"s":"External Sensor","f":2.21,"v":-75.1},{"s":"External Sensor","f":2.24,"v":-75.4},{"s":"External Sensor","f":2.27,"v":-75.0},{"s":"External Sensor","f":2.30,"v":-75.3},{"s":"External Sensor","f":2.33,"v":-74.9},{"s":"External Sensor","f":2.36,"v":-75.2},{"s":"External Sensor","f":2.39,"v":-74.8},{"s":"External Sensor","f":2.42,"v":-75.1},{"s":"External Sensor","f":2.45,"v":-74.7},{"s":"External Sensor","f":2.48,"v":-75.0},{"s":"External Sensor","f":2.51,"v":-74.6},{"s":"External Sensor","f":2.54,"v":-74.9},{"s":"External Sensor","f":2.57,"v":-74.5},{"s":"External Sensor","f":2.60,"v":-74.8},{"s":"External Sensor","f":2.63,"v":-74.4},{"s":"External Sensor","f":2.66,"v":-74.7},{"s":"External Sensor","f":2.69,"v":-74.4},{"s":"External Sensor","f":2.72,"v":-74.6},{"s":"External Sensor","f":2.75,"v":-74.2},{"s":"External Sensor","f":2.78,"v":-74.5},{"s":"External Sensor","f":2.81,"v":-74.2},{"s":"External Sensor","f":2.84,"v":-74.4},{"s":"External Sensor","f":2.87,"v":-74.0},{"s":"External Sensor","f":2.90,"v":-74.3},{"s":"External Sensor","f":2.93,"v":-73.9},{"s":"External Sensor","f":2.96,"v":-74.1},{"s":"External Sensor","f":3.00,"v":-73.6},
{"s":"Noise Floor","f":0.000,"v":-40},{"s":"Noise Floor","f":0.005,"v":-55},{"s":"Noise Floor","f":0.01,"v":-76},{"s":"Noise Floor","f":0.02,"v":-77.8},{"s":"Noise Floor","f":0.04,"v":-77.2},{"s":"Noise Floor","f":0.06,"v":-78.0},{"s":"Noise Floor","f":0.08,"v":-76.8},{"s":"Noise Floor","f":0.10,"v":-77.6},{"s":"Noise Floor","f":0.12,"v":-75.5},{"s":"Noise Floor","f":0.14,"v":-77.5},{"s":"Noise Floor","f":0.16,"v":-76.5},{"s":"Noise Floor","f":0.18,"v":-77.8},{"s":"Noise Floor","f":0.20,"v":-77.0},{"s":"Noise Floor","f":0.22,"v":-77.5},{"s":"Noise Floor","f":0.24,"v":-76.8},{"s":"Noise Floor","f":0.26,"v":-77.6},{"s":"Noise Floor","f":0.28,"v":-77.0},{"s":"Noise Floor","f":0.30,"v":-75.0},{"s":"Noise Floor","f":0.31,"v":-77.5},{"s":"Noise Floor","f":0.33,"v":-77.2},{"s":"Noise Floor","f":0.35,"v":-78.0},{"s":"Noise Floor","f":0.37,"v":-77.3},{"s":"Noise Floor","f":0.40,"v":-77.6},{"s":"Noise Floor","f":0.43,"v":-77.0},{"s":"Noise Floor","f":0.46,"v":-77.4},{"s":"Noise Floor","f":0.49,"v":-76.8},{"s":"Noise Floor","f":0.52,"v":-77.2},{"s":"Noise Floor","f":0.55,"v":-76.6},{"s":"Noise Floor","f":0.58,"v":-77.0},{"s":"Noise Floor","f":0.61,"v":-76.8},{"s":"Noise Floor","f":0.64,"v":-77.2},{"s":"Noise Floor","f":0.67,"v":-76.6},{"s":"Noise Floor","f":0.70,"v":-77.0},{"s":"Noise Floor","f":0.73,"v":-76.5},{"s":"Noise Floor","f":0.76,"v":-76.9},{"s":"Noise Floor","f":0.79,"v":-76.4},{"s":"Noise Floor","f":0.81,"v":-76.8},{"s":"Noise Floor","f":0.825,"v":-73.6},{"s":"Noise Floor","f":0.835,"v":-76.5},{"s":"Noise Floor","f":0.86,"v":-76.8},{"s":"Noise Floor","f":0.875,"v":-70.0},{"s":"Noise Floor","f":0.883,"v":-62.0},{"s":"Noise Floor","f":0.89,"v":-60.3},{"s":"Noise Floor","f":0.895,"v":-66.0},{"s":"Noise Floor","f":0.90,"v":-72.0},{"s":"Noise Floor","f":0.905,"v":-76.5},{"s":"Noise Floor","f":0.92,"v":-77.0},{"s":"Noise Floor","f":0.95,"v":-77.4},{"s":"Noise Floor","f":0.98,"v":-76.8},{"s":"Noise Floor","f":1.01,"v":-77.3},{"s":"Noise Floor","f":1.04,"v":-76.9},{"s":"Noise Floor","f":1.07,"v":-77.5},{"s":"Noise Floor","f":1.10,"v":-77.0},{"s":"Noise Floor","f":1.13,"v":-77.4},{"s":"Noise Floor","f":1.16,"v":-76.8},{"s":"Noise Floor","f":1.19,"v":-77.3},{"s":"Noise Floor","f":1.22,"v":-77.0},{"s":"Noise Floor","f":1.25,"v":-77.5},{"s":"Noise Floor","f":1.28,"v":-76.9},{"s":"Noise Floor","f":1.31,"v":-77.2},{"s":"Noise Floor","f":1.34,"v":-76.7},{"s":"Noise Floor","f":1.37,"v":-77.1},{"s":"Noise Floor","f":1.40,"v":-76.6},{"s":"Noise Floor","f":1.43,"v":-77.0},{"s":"Noise Floor","f":1.46,"v":-76.8},{"s":"Noise Floor","f":1.49,"v":-77.3},{"s":"Noise Floor","f":1.52,"v":-76.9},{"s":"Noise Floor","f":1.55,"v":-77.6},{"s":"Noise Floor","f":1.58,"v":-77.0},{"s":"Noise Floor","f":1.61,"v":-77.4},{"s":"Noise Floor","f":1.64,"v":-76.8},{"s":"Noise Floor","f":1.67,"v":-76.9},{"s":"Noise Floor","f":1.70,"v":-76.5},{"s":"Noise Floor","f":1.73,"v":-76.7},{"s":"Noise Floor","f":1.76,"v":-76.3},{"s":"Noise Floor","f":1.79,"v":-76.6},{"s":"Noise Floor","f":1.82,"v":-76.2},{"s":"Noise Floor","f":1.85,"v":-76.5},{"s":"Noise Floor","f":1.88,"v":-76.0},{"s":"Noise Floor","f":1.91,"v":-76.4},{"s":"Noise Floor","f":1.94,"v":-76.0},{"s":"Noise Floor","f":1.97,"v":-76.3},{"s":"Noise Floor","f":2.00,"v":-75.9},{"s":"Noise Floor","f":2.03,"v":-76.3},{"s":"Noise Floor","f":2.06,"v":-76.0},{"s":"Noise Floor","f":2.09,"v":-75.8},{"s":"Noise Floor","f":2.12,"v":-76.1},{"s":"Noise Floor","f":2.15,"v":-75.7},{"s":"Noise Floor","f":2.18,"v":-76.0},{"s":"Noise Floor","f":2.21,"v":-75.6},{"s":"Noise Floor","f":2.24,"v":-75.8},{"s":"Noise Floor","f":2.27,"v":-75.4},{"s":"Noise Floor","f":2.30,"v":-75.7},{"s":"Noise Floor","f":2.33,"v":-75.3},{"s":"Noise Floor","f":2.36,"v":-75.6},{"s":"Noise Floor","f":2.39,"v":-75.2},{"s":"Noise Floor","f":2.42,"v":-75.5},{"s":"Noise Floor","f":2.45,"v":-75.1},{"s":"Noise Floor","f":2.48,"v":-75.4},{"s":"Noise Floor","f":2.51,"v":-75.0},{"s":"Noise Floor","f":2.54,"v":-75.3},{"s":"Noise Floor","f":2.57,"v":-74.9},{"s":"Noise Floor","f":2.60,"v":-75.2},{"s":"Noise Floor","f":2.63,"v":-74.8},{"s":"Noise Floor","f":2.66,"v":-75.1},{"s":"Noise Floor","f":2.69,"v":-74.8},{"s":"Noise Floor","f":2.72,"v":-75.0},{"s":"Noise Floor","f":2.75,"v":-74.6},{"s":"Noise Floor","f":2.78,"v":-74.9},{"s":"Noise Floor","f":2.81,"v":-74.6},{"s":"Noise Floor","f":2.84,"v":-74.8},{"s":"Noise Floor","f":2.87,"v":-74.4},{"s":"Noise Floor","f":2.90,"v":-74.7},{"s":"Noise Floor","f":2.93,"v":-74.3},{"s":"Noise Floor","f":2.96,"v":-74.6},{"s":"Noise Floor","f":3.00,"v":-74.3}
  ]},
  "layer": [
    {
      "mark": {"type": "line", "strokeWidth": 1, "clip": true},
      "encoding": {
        "x": {"field": "f", "type": "quantitative", "scale": {"domain": [0, 3], "nice": false, "zero": false},
          "axis": {"orient": "bottom", "values": [0,0.1,0.2,0.3,0.4,0.5,0.6,0.7,0.8,0.9,1,1.1,1.2,1.3,1.4,1.5,1.6,1.7,1.8,1.9,2,2.1,2.2,2.3,2.4,2.5,2.6,2.7,2.8,2.9,3],
            "labelExpr": "abs(datum.value*2-round(datum.value*2))<0.001 ? format(datum.value,'.1f') : ''",
            "tickSize": {"condition": {"test": "abs(datum.value*2-round(datum.value*2))<0.001", "value": -6}, "value": -3},
            "labelPadding": 9, "title": ["frequency (GHz)", "(b)"], "titleFontSize": 15, "titleLineHeight": 19, "titlePadding": 8}},
        "y": {"field": "v", "type": "quantitative", "scale": {"domain": [-80, -40], "nice": false, "zero": false},
          "axis": {"orient": "left", "values": [-80,-75,-70,-65,-60,-55,-50,-45,-40],
            "labelExpr": "datum.value % 10 == 0 ? '' + datum.value : ''",
            "tickSize": {"condition": {"test": "datum.value % 10 == 0", "value": -6}, "value": -3},
            "labelPadding": 14, "title": "PD Signals (dBm)", "titleFontSize": 13.5, "titlePadding": 9, "titleY": 103}},
        "color": {"field": "s", "type": "nominal",
          "scale": {"domain": ["Internal Sensor", "External Sensor", "Noise Floor"], "range": ["#ff0000", "#0000ff", "#00ee00"]},
          "legend": {"orient": "none", "legendX": 186, "legendY": 16, "title": ["SF₆ 5 kg/cm²", "10 kV"], "titleFontSize": 13, "titleLineHeight": 14, "titlePadding": 1, "symbolType": "stroke", "symbolSize": 900, "symbolStrokeWidth": 1.2, "clipHeight": 13, "rowPadding": 0, "labelFontSize": 12.5, "labelOffset": 4}}
      }
    },
    {
      "mark": {"type": "point", "opacity": 0},
      "encoding": {
        "x": {"field": "f", "type": "quantitative",
          "axis": {"orient": "top", "values": [0,0.1,0.2,0.3,0.4,0.5,0.6,0.7,0.8,0.9,1,1.1,1.2,1.3,1.4,1.5,1.6,1.7,1.8,1.9,2,2.1,2.2,2.3,2.4,2.5,2.6,2.7,2.8,2.9,3], "labels": false, "title": null,
            "tickSize": {"condition": {"test": "abs(datum.value*2-round(datum.value*2))<0.001", "value": -6}, "value": -3}}},
        "y": {"field": "v", "type": "quantitative",
          "axis": {"orient": "right", "values": [-80,-75,-70,-65,-60,-55,-50,-45,-40], "labels": false, "title": null,
            "tickSize": {"condition": {"test": "datum.value % 10 == 0", "value": -6}, "value": -3}}}
      }
    }
  ],
  "resolve": {"axis": {"x": "independent", "y": "independent"}}
}
]
}
